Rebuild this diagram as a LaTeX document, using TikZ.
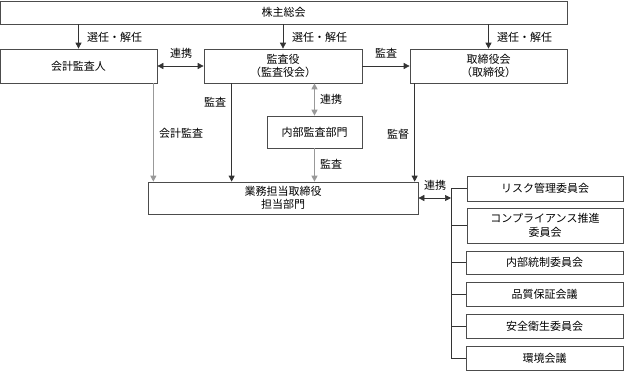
\documentclass[tikz,border=0pt]{standalone}
\usepackage{fontspec}
\setmainfont{Noto Sans CJK JP}
\usetikzlibrary{arrows.meta}
\begin{document}
\begin{tikzpicture}[x=1pt,y=-1pt,
  every node/.style={font=\fontsize{11}{13.5}\selectfont, text=black},
  box/.style={draw=black!70, line width=0.7pt, inner sep=0pt, align=center, fill=white},
  lbl/.style={inner sep=0pt},
  ln/.style={draw=black!80, line width=0.7pt},
  lg/.style={draw=black!40, line width=1pt},
  arr/.style={-{Triangle[length=6pt,width=6pt]}},
  barr/.style={{Triangle[length=6pt,width=6pt]}-{Triangle[length=6pt,width=6pt]}}
]
\useasboundingbox (0,0) rectangle (625,372);
% boxes
\node[box, minimum width=567pt, minimum height=23pt] (top) at (283.5,12.5) {株主総会};
\node[box, minimum width=157pt, minimum height=34pt] (kaikei) at (78.5,66) {会計監査人};
\node[box, minimum width=158pt, minimum height=34pt] (kansa) at (283,66) {監査役\\（監査役会）};
\node[box, minimum width=157pt, minimum height=34pt] (tori) at (488.5,66) {取締役会\\（取締役）};
\node[box, minimum width=95pt, minimum height=32pt] (naibu) at (314.5,132) {内部監査部門};
\node[box, minimum width=270pt, minimum height=32pt] (gyomu) at (283,198) {業務担当取締役\\担当部門};
\node[box, minimum width=156pt, minimum height=25pt] (risk) at (545,188.5) {リスク管理委員会};
\node[box, minimum width=156pt, minimum height=35pt] (comp) at (545,225.5) {コンプライアンス推進\\委員会};
\node[box, minimum width=157pt, minimum height=23pt] (tosei) at (544.5,262.5) {内部統制委員会};
\node[box, minimum width=157pt, minimum height=24pt] (hinshitsu) at (544.5,294) {品質保証会議};
\node[box, minimum width=157pt, minimum height=24pt] (anzen) at (544.5,326) {安全衛生委員会};
\node[box, minimum width=157pt, minimum height=24pt] (kankyo) at (544.5,358) {環境会議};
% top arrows
\draw[ln,arr] (top.south -| kaikei.north) -- (kaikei.north);
\draw[ln,arr] (top.south -| kansa.north) -- (kansa.north);
\draw[ln,arr] (top.south -| tori.north) -- (tori.north);
\node[lbl, anchor=west] (l1) at (87,37) {選任・解任};
\node[lbl, anchor=west] (l2) at (292,37) {選任・解任};
\node[lbl, anchor=west] (l3) at (497,37) {選任・解任};
% row 2 links
\draw[ln,barr] (kaikei.east) -- (kansa.west);
\node[lbl] (l4) at (181,53) {連携};
\draw[ln,arr] (kansa.east) -- (tori.west);
\node[lbl] (l5) at (386,53) {監査};
% kansa <-> naibu
\draw[lg,barr] (naibu.north |- kansa.south) -- (naibu.north);
\node[lbl, anchor=west] (l6) at (320,99) {連携};
% verticals to gyomu
\coordinate (c1) at ([xshift=-4pt]kaikei.south east);
\draw[lg,arr] (c1) -- (c1 |- gyomu.north);
\node[lbl] (l7) at (181,133) {会計監査};
\coordinate (c2) at ([xshift=28pt]kansa.south west);
\draw[ln,arr] (c2) -- (c2 |- gyomu.north);
\node[lbl] (l8) at (215,102) {監査};
\draw[lg,arr] (naibu.south) -- (naibu.south |- gyomu.north);
\node[lbl, anchor=west] (l9) at (320,164) {監査};
\coordinate (c3) at ([xshift=5pt]tori.south west);
\draw[ln,arr] (c3) -- (c3 |- gyomu.north);
\node[lbl] (l10) at (398,134) {監督};
% tree
\coordinate (tx) at (451,0);
\draw[ln] (tx |- risk.west) -- (tx |- kankyo.west);
\foreach \n in {risk,comp,tosei,hinshitsu,anzen,kankyo}{
  \draw[ln] (tx |- \n.west) -- (\n.west);
}
\draw[ln,barr] (gyomu.east) -- (tx |- gyomu.east);
\node[lbl] (l11) at (435,185) {連携};
\end{tikzpicture}
\end{document}
